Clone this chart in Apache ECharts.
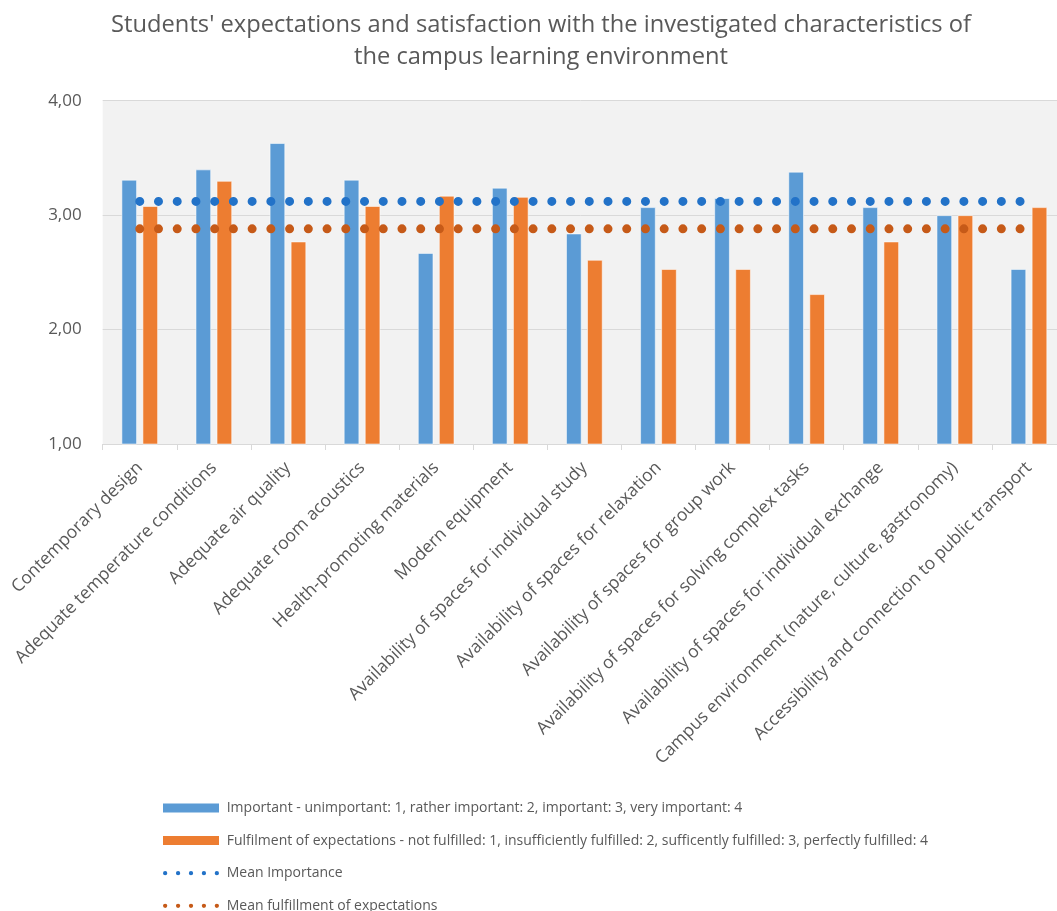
<!DOCTYPE html>
<html>
<head>
<meta charset="utf-8">
<script src="https://cdn.jsdelivr.net/npm/echarts@6/dist/echarts.min.js"></script>
<style>html,body{margin:0;padding:0;background:#fff;}#c{width:1057px;height:911px;}</style>
</head>
<body>
<div id="c"></div>
<script>
var categories = [
  'Contemporary design',
  'Adequate temperature conditions',
  'Adequate air quality',
  'Adequate room acoustics',
  'Health-promoting materials',
  'Modern equipment',
  'Availability of spaces for individual study',
  'Availability of spaces for relaxation',
  'Availability of spaces for group work',
  'Availability of spaces for solving complex tasks',
  'Availability of spaces for individual exchange',
  'Campus environment (nature, culture, gastronomy)',
  'Accessibility and connection to public transport'
];
var importance = [3.31, 3.40, 3.63, 3.31, 2.67, 3.24, 2.84, 3.07, 3.15, 3.38, 3.07, 3.00, 2.53];
var fulfilment = [3.08, 3.30, 2.77, 3.08, 3.17, 3.16, 2.61, 2.53, 2.53, 2.31, 2.77, 3.00, 3.07];
var meanImportance = 3.12;
var meanFulfilment = 2.88;
var yTicks = [1, 2, 3, 4];
var seriesNames = [
  'Important - unimportant: 1, rather important: 2, important: 3, very important: 4',
  'Fulfilment of expectations - not fulfilled: 1, insufficiently fulfilled: 2, sufficently fulfilled: 3, perfectly fulfilled: 4',
  'Mean Importance',
  'Mean fulfillment of expectations'
];
var titleText = "Students' expectations and satisfaction with the investigated characteristics of\nthe campus learning environment";

var meanImpData = categories.map(function () { return meanImportance; });
var meanFulData = categories.map(function () { return meanFulfilment; });

var dotsIcon = 'path://M0,2a2,2 0 1,0 4,0a2,2 0 1,0 -4,0M12,2a2,2 0 1,0 4,0a2,2 0 1,0 -4,0M24,2a2,2 0 1,0 4,0a2,2 0 1,0 -4,0M36,2a2,2 0 1,0 4,0a2,2 0 1,0 -4,0M48,2a2,2 0 1,0 4,0a2,2 0 1,0 -4,0';

var FONT = 'Open Sans';
var chart = echarts.init(document.getElementById('c'), null, {renderer: 'canvas'});
chart.setOption({
  animation: false,
  backgroundColor: '#ffffff',
  title: {
    text: titleText,
    left: 541,
    top: 9,
    padding: 0,
    textAlign: 'center',
    textStyle: {fontFamily: FONT, fontSize: 23.7, fontWeight: 'normal', color: '#595959', lineHeight: 32.5}
  },
  grid: {
    left: 102.7, top: 100.7, width: 963.3, height: 343.3,
    show: true, backgroundColor: '#f2f2f2', borderWidth: 0,
    containLabel: false, outerBoundsMode: 'none'
  },
  legend: {
    orient: 'vertical',
    left: 163, top: 801, height: 150,
    padding: 0,
    itemWidth: 56, itemHeight: 9, itemGap: 18.6,
    textStyle: {fontFamily: FONT, fontSize: 14, color: '#595959', lineHeight: 11, padding: [0, 0, 0, 2.7]},
    itemStyle: {borderWidth: 0},
    data: [
      {name: seriesNames[0], icon: 'rect'},
      {name: seriesNames[1], icon: 'rect'},
      {name: seriesNames[2], icon: dotsIcon},
      {name: seriesNames[3], icon: dotsIcon}
    ]
  },
  xAxis: {
    type: 'category',
    data: categories,
    boundaryGap: true,
    axisLine: {show: true, lineStyle: {color: '#d9d9d9', width: 1}},
    axisTick: {show: true, length: 6, alignWithLabel: false, lineStyle: {color: '#d9d9d9'}},
    axisLabel: {rotate: 45, margin: 21, interval: 0, fontFamily: FONT, fontSize: 17.5, color: '#595959'}
  },
  yAxis: {
    type: 'value',
    min: yTicks[0], max: yTicks[yTicks.length - 1], interval: 1,
    axisLine: {show: false},
    axisTick: {show: false},
    splitLine: {show: true, lineStyle: {color: '#d9d9d9', width: 1}},
    axisLabel: {
      margin: 21, fontFamily: FONT, fontSize: 17, color: '#595959',
      formatter: function (v) { return v.toFixed(2).replace('.', ','); }
    }
  },
  series: [
    {
      name: seriesNames[0], type: 'bar', data: importance,
      barWidth: 15.7, barGap: '34%',
      itemStyle: {color: '#5b9bd5', borderColor: 'rgba(255,255,255,0.55)', borderWidth: 1}
    },
    {
      name: seriesNames[1], type: 'bar', data: fulfilment,
      barWidth: 15.7,
      itemStyle: {color: '#ed7d31', borderColor: 'rgba(255,255,255,0.55)', borderWidth: 1}
    },
    {
      name: seriesNames[2], type: 'line', data: meanImpData,
      symbol: 'none', silent: true, z: 5,
      itemStyle: {color: '#2272c8'},
      lineStyle: {color: '#2272c8', width: 9, type: [0.01, 18.72], cap: 'round'}
    },
    {
      name: seriesNames[3], type: 'line', data: meanFulData,
      symbol: 'none', silent: true, z: 5,
      itemStyle: {color: '#c65a18'},
      lineStyle: {color: '#c65a18', width: 9, type: [0.01, 18.72], cap: 'round'}
    }
  ]
});
</script>
</body>
</html>
